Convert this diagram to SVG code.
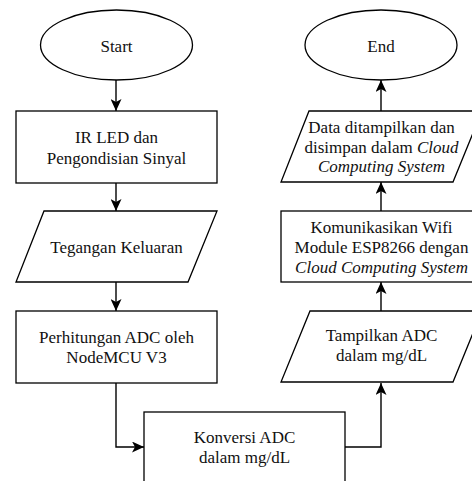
<svg xmlns="http://www.w3.org/2000/svg" width="472" height="481" viewBox="0 0 472 481" font-family="'Liberation Serif', 'Times New Roman', serif">
  <style>
    .shape { fill: #ffffff; stroke: #000000; stroke-width: 1.3; }
    .edge { fill: none; stroke: #000000; stroke-width: 1.4; }
    .lbl { font-family: 'Liberation Serif', 'Times New Roman', serif; font-size: 17px; fill: #111111; text-anchor: middle; }
    .it { font-style: italic; }
  </style>
  <defs>
    <marker id="arrow" viewBox="0 0 12 11" refX="12" refY="5.5" markerWidth="12" markerHeight="11" markerUnits="userSpaceOnUse" orient="auto">
      <path d="M0,0 L12,5.5 L0,11 L3,5.5 z" fill="#000000"/>
    </marker>
  </defs>
  <rect width="472" height="481" fill="#ffffff"/>

  <!-- connectors -->
  <g id="connectors">
    <path class="edge" d="M116,80 L116,111" marker-end="url(#arrow)"/>
    <path class="edge" d="M116,183 L116,211" marker-end="url(#arrow)"/>
    <path class="edge" d="M116,282 L116,311" marker-end="url(#arrow)"/>
    <path class="edge" d="M116,383 L116,447 L144,447" marker-end="url(#arrow)"/>
    <path class="edge" d="M345,447 L381,447 L381,383" marker-end="url(#arrow)"/>
    <path class="edge" d="M381,311 L381,282" marker-end="url(#arrow)"/>
    <path class="edge" d="M381,211 L381,182" marker-end="url(#arrow)"/>
    <path class="edge" d="M381,111 L381,80" marker-end="url(#arrow)"/>
  </g>

  <!-- left column -->
  <g id="start">
    <ellipse class="shape" cx="116.5" cy="45" rx="76" ry="35"/>
    <text class="lbl" x="116.5" y="52">Start</text>
  </g>
  <g id="ir-led">
    <rect class="shape" x="16" y="111" width="201" height="72"/>
    <text class="lbl" x="116.5" y="143">IR LED dan</text>
    <text class="lbl" x="116.5" y="164">Pengondisian Sinyal</text>
  </g>
  <g id="tegangan">
    <polygon class="shape" points="44,211 217,211 188,282 16,282"/>
    <text class="lbl" x="116.5" y="253">Tegangan Keluaran</text>
  </g>
  <g id="perhitungan">
    <rect class="shape" x="16" y="311" width="201" height="72"/>
    <text class="lbl" x="116.5" y="343">Perhitungan ADC oleh</text>
    <text class="lbl" x="116.5" y="363">NodeMCU V3</text>
  </g>

  <!-- bottom -->
  <g id="konversi">
    <rect class="shape" x="144" y="412" width="201" height="72"/>
    <text class="lbl" x="244.5" y="443">Konversi ADC</text>
    <text class="lbl" x="244.5" y="463">dalam mg/dL</text>
  </g>

  <!-- right column -->
  <g id="tampilkan">
    <polygon class="shape" points="310,311 482,311 453,382 281,382"/>
    <text class="lbl" x="381.5" y="341">Tampilkan ADC</text>
    <text class="lbl" x="381.5" y="361">dalam mg/dL</text>
  </g>
  <g id="komunikasi">
    <rect class="shape" x="281" y="211" width="201" height="71"/>
    <text class="lbl" x="381.5" y="233">Komunikasikan Wifi</text>
    <text class="lbl" x="381.5" y="253">Module ESP8266 dengan</text>
    <text class="lbl it" x="381.5" y="273">Cloud Computing System</text>
  </g>
  <g id="data">
    <polygon class="shape" points="309,111 482,111 453,182 281,182"/>
    <text class="lbl" x="381.5" y="133">Data ditampilkan dan</text>
    <text class="lbl" x="381.5" y="153">disimpan dalam <tspan class="it">Cloud</tspan></text>
    <text class="lbl it" x="381.5" y="172">Computing System</text>
  </g>
  <g id="end">
    <ellipse class="shape" cx="381" cy="45" rx="76" ry="35"/>
    <text class="lbl" x="381" y="52">End</text>
  </g>
</svg>
